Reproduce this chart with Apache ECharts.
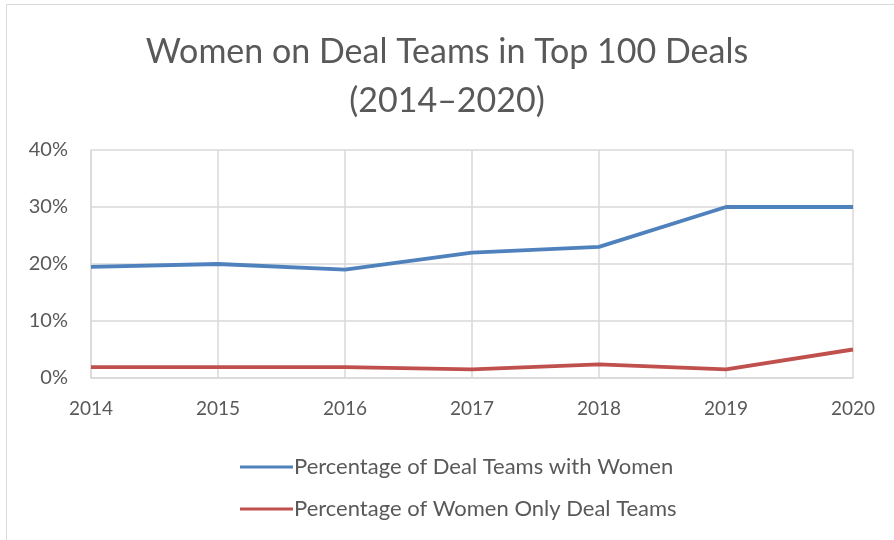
<!DOCTYPE html>
<html>
<head>
<meta charset="utf-8">
<script src="https://cdn.jsdelivr.net/npm/echarts@6/dist/echarts.min.js"></script>
<style>
  html, body { margin: 0; padding: 0; background: #fff; }
  #chart { width: 894px; height: 540px; }
</style>
</head>
<body>
<div id="chart"></div>
<script>
const years = ['2014', '2015', '2016', '2017', '2018', '2019', '2020'];
const withWomen = [19.5, 20, 19, 22, 23, 30, 30];
const womenOnly = [1.9, 1.9, 1.9, 1.5, 2.4, 1.5, 5];
const yTicks = [0, 10, 20, 30, 40];

const textColor = '#595959';
const gridColor = '#d9d9d9';
const font = 'Lato, "Open Sans", sans-serif';

const myChart = echarts.init(document.getElementById('chart'));

const option = {
  backgroundColor: '#fff',
  textStyle: { fontFamily: font },
  graphic: [{
    type: 'rect',
    shape: { x: 6.5, y: 4.5, width: 1000, height: 1000 },
    style: { fill: 'none', stroke: gridColor, lineWidth: 1 },
    silent: true
  }],
  title: {
    text: 'Women on Deal Teams in Top 100 Deals\n(2014\u20132020)',
    left: 'center',
    top: 23,
    textStyle: {
      color: textColor,
      fontSize: 34,
      fontWeight: 'normal',
      fontFamily: font,
      lineHeight: 49
    }
  },
  legend: {
    orient: 'vertical',
    left: 235,
    top: 451,
    itemGap: 20,
    itemWidth: 53,
    itemHeight: 3,
    icon: 'rect',
    textStyle: { color: textColor, fontSize: 22, fontFamily: font, padding: [0, 0, 0, -4] },
    data: ['Percentage of Deal Teams with Women', 'Percentage of Women Only Deal Teams']
  },
  grid: {
    left: 91,
    right: 41,
    top: 150,
    bottom: 162
  },
  xAxis: {
    type: 'category',
    boundaryGap: false,
    data: years,
    axisLine: { show: true, lineStyle: { color: gridColor, width: 1.5 } },
    axisTick: { show: false },
    splitLine: { show: true, lineStyle: { color: gridColor, width: 1.5 } },
    axisLabel: { color: textColor, fontSize: 19, margin: 21 }
  },
  yAxis: {
    type: 'value',
    min: yTicks[0],
    max: yTicks[yTicks.length - 1],
    interval: 10,
    axisLine: { show: true, lineStyle: { color: gridColor, width: 1.5 } },
    axisTick: { show: false },
    splitLine: { show: true, lineStyle: { color: gridColor, width: 1.5 } },
    axisLabel: { color: textColor, fontSize: 20, margin: 23, formatter: '{value}%' }
  },
  series: [
    {
      name: 'Percentage of Deal Teams with Women',
      type: 'line',
      data: withWomen,
      symbol: 'none',
      color: '#4f81bd',
      lineStyle: { width: 3.8, color: '#4f81bd' }
    },
    {
      name: 'Percentage of Women Only Deal Teams',
      type: 'line',
      data: womenOnly,
      symbol: 'none',
      color: '#c0504d',
      lineStyle: { width: 3.8, color: '#c0504d' }
    }
  ]
};

myChart.setOption(option);
</script>
</body>
</html>
